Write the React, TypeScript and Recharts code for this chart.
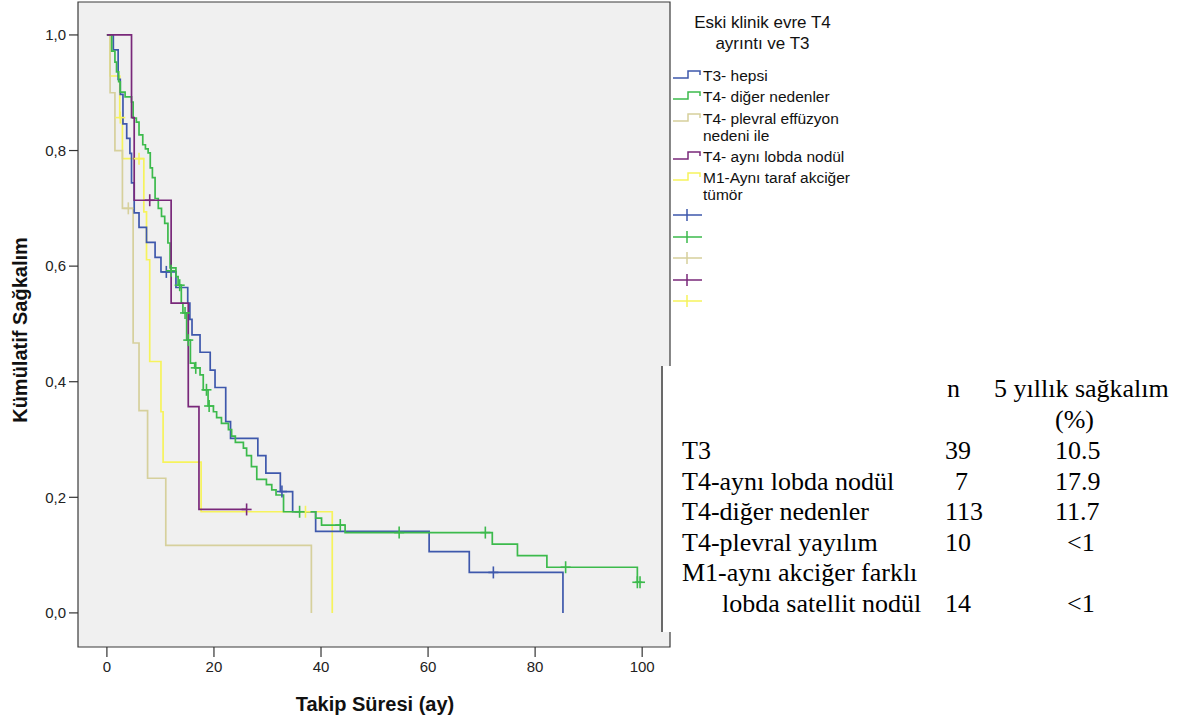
import React from 'react';
import { ComposedChart, Line, Scatter, XAxis, YAxis, ReferenceArea } from 'recharts';

// ---------- data ----------
const xTicks = [0, 20, 40, 60, 80, 100];
const yTicks = [0, 0.2, 0.4, 0.6, 0.8, 1.0];

// step points: [time (months), survival after that time]
const t3Steps: [number, number][] = [
  [0, 1], [1.2, 0.974], [2.1, 0.923], [2.5, 0.897], [3.0, 0.846], [3.7, 0.821], [4.3, 0.795],
  [4.6, 0.744], [5.1, 0.692], [6.0, 0.667], [7.4, 0.641], [9.0, 0.615], [10.1, 0.59],
  [12.9, 0.563], [15.1, 0.536], [15.5, 0.508], [15.9, 0.481], [17.4, 0.451], [19.3, 0.42],
  [20.2, 0.39], [22.2, 0.331], [23.1, 0.302], [28.2, 0.272], [29.7, 0.242], [32.4, 0.21],
  [34.7, 0.175], [39.0, 0.141], [60.2, 0.106], [67.7, 0.07], [85.2, 0],
];
const t3Censor: [number, number][] = [[11.1, 0.59], [32.7, 0.21], [72.2, 0.07]];

const t4OtherSteps: [number, number][] = [
  [0, 1], [0.9, 0.972], [1.5, 0.953], [1.8, 0.936], [2.2, 0.919], [2.5, 0.901], [3.4, 0.893],
  [4.6, 0.884], [4.9, 0.856], [5.5, 0.849], [6.0, 0.827], [6.7, 0.81], [7.2, 0.803], [7.7, 0.796],
  [8.1, 0.77], [8.5, 0.753], [9.0, 0.717], [9.6, 0.7], [10.2, 0.686], [10.8, 0.674], [11.4, 0.64],
  [11.8, 0.597], [12.9, 0.582], [13.3, 0.567], [13.9, 0.536], [14.2, 0.519], [14.9, 0.472],
  [15.6, 0.432], [16.4, 0.424], [17.4, 0.412], [18.0, 0.386], [18.9, 0.358], [19.9, 0.348],
  [20.5, 0.338], [21.4, 0.328], [22.7, 0.317], [23.3, 0.306], [24.0, 0.295], [25.5, 0.285],
  [26.1, 0.272], [27.0, 0.253], [28.0, 0.231], [29.8, 0.222], [30.8, 0.213], [31.6, 0.204],
  [33.0, 0.175], [39.0, 0.164], [40.1, 0.152], [44.5, 0.139], [72.0, 0.119], [76.7, 0.099],
  [82.2, 0.079], [99.1, 0.053], [99.6, 0.053],
];
const t4OtherCensor: [number, number][] = [
  [12.0, 0.592], [13.6, 0.567], [14.6, 0.519], [15.2, 0.472], [16.6, 0.424], [18.6, 0.386],
  [19.1, 0.358], [36.0, 0.175], [43.6, 0.152], [54.6, 0.139], [70.7, 0.139], [85.7, 0.079],
  [99.1, 0.053], [99.6, 0.053],
];

const t4PleuralSteps: [number, number][] = [
  [0, 1], [0.6, 0.9], [1.5, 0.8], [2.9, 0.7], [4.9, 0.467], [6.0, 0.35], [7.6, 0.233],
  [11.0, 0.117], [38.2, 0],
];
const t4PleuralCensor: [number, number][] = [[4.0, 0.7]];

const t4SameLobeSteps: [number, number][] = [
  [0, 1], [4.6, 0.857], [5.1, 0.714], [12.0, 0.536], [15.2, 0.357], [17.2, 0.179], [26.1, 0.179],
];
const t4SameLobeCensor: [number, number][] = [[8.0, 0.714], [26.1, 0.179]];

const m1Steps: [number, number][] = [
  [0, 1], [0.6, 0.929], [2.4, 0.857], [2.9, 0.786], [6.9, 0.694], [7.4, 0.611], [8.0, 0.435],
  [10.1, 0.348], [10.5, 0.261], [17.6, 0.175], [42.1, 0],
];
const m1Censor: [number, number][] = [[2.5, 0.857], [6.0, 0.786], [37.1, 0.175]];

const legendTitle = ['Eski klinik evre T4', 'ayrıntı ve T3'];
const legendLabels = [
  ['T3- hepsi'],
  ['T4- diğer nedenler'],
  ['T4- plevral effüzyon', 'nedeni ile'],
  ['T4- aynı lobda nodül'],
  ['M1-Aynı taraf akciğer', 'tümör'],
];

const tableHeaderN = 'n';
const tableHeaderSurv = ['5 yıllık sağkalım', '(%)'];
const tableGroups = [
  ['T3'],
  ['T4-aynı lobda nodül'],
  ['T4-diğer nedenler'],
  ['T4-plevral yayılım'],
  ['M1-aynı akciğer farklı', 'lobda satellit nodül'],
];
const tableN = ['39', '7', '113', '10', '14'];
const tableSurv = ['10.5', '17.9', '11.7', '<1', '<1'];

// ---------- styles ----------
const BLUE = '#3e58ac';
const GREEN = '#3cba4c';
const BEIGE = '#d6d09c';
const PURPLE = '#79287a';
const YELLOW = '#f6f35c';
const COLORS = [BLUE, GREEN, BEIGE, PURPLE, YELLOW];

const SANS = '"Liberation Sans", Arial, sans-serif';
const SERIF = '"Liberation Serif", "Times New Roman", serif';

const toPts = (a: [number, number][]) => a.map(([t, s]) => ({ t, s }));

const X_DOMAIN: [number, number] = [-5.4, 105.2];
const Y_DOMAIN: [number, number] = [-0.059, 1.057];

const makeCensor = (color: string) => (props: any) => {
  const { cx, cy } = props;
  if (cx == null || cy == null) return <g />;
  return (
    <g>
      <line x1={cx} y1={cy - 6} x2={cx} y2={cy + 6} stroke={color} strokeWidth={1.6} />
      <line x1={cx - 5} y1={cy} x2={cx + 5} y2={cy} stroke={color} strokeWidth={1.6} />
    </g>
  );
};

const fmt = (v: number) => v.toFixed(1).replace('.', ',');

const StepIcon = ({ color }: { color: string }) => (
  <svg width={30} height={14} style={{ display: 'block' }}>
    <path d="M0,9 L15,9 L15,2 L27,2 L27,6" fill="none" stroke={color} strokeWidth={1.5} />
  </svg>
);
const CensorIcon = ({ color }: { color: string }) => (
  <svg width={30} height={14} style={{ display: 'block' }}>
    <path d="M0,7 L29,7 M14,1 L14,13" fill="none" stroke={color} strokeWidth={1.5} />
  </svg>
);

export default function App() {
  const series = [
    { steps: m1Steps, censor: m1Censor, color: YELLOW, key: 'm1' },
    { steps: t4PleuralSteps, censor: t4PleuralCensor, color: BEIGE, key: 'pl' },
    { steps: t3Steps, censor: t3Censor, color: BLUE, key: 't3' },
    { steps: t4OtherSteps, censor: t4OtherCensor, color: GREEN, key: 'ot' },
    { steps: t4SameLobeSteps, censor: t4SameLobeCensor, color: PURPLE, key: 'sl' },
  ];
  const itemTops = [77, 98, 120, 158, 179];
  const censorTops = [215, 236.5, 258, 280, 300.5];
  const rowCenters = [451, 481.5, 512, 542.5, 573];

  return (
    <div style={{ position: 'absolute', left: 0, top: 0, width: 1193, height: 723, background: '#fff', overflow: 'hidden' }}>
      <ComposedChart
        width={1193}
        height={723}
        margin={{ top: 2, right: 523, bottom: 46, left: 18 }}
      >
        <ReferenceArea
          x1={X_DOMAIN[0]}
          x2={X_DOMAIN[1]}
          y1={Y_DOMAIN[0]}
          y2={Y_DOMAIN[1]}
          fill="#f0f0f0"
          fillOpacity={1}
          stroke="#3a3a3a"
          strokeWidth={1.2}
          ifOverflow="visible"
        />
        <XAxis
          type="number"
          dataKey="t"
          domain={X_DOMAIN}
          ticks={xTicks}
          allowDataOverflow
          height={30}
          axisLine={false}
          tickLine={{ stroke: '#333', strokeWidth: 1.2 }}
          tickSize={10}
          tickMargin={4}
          tick={{ fontSize: 15, fill: '#222', fontFamily: SANS }}
        />
        <YAxis
          type="number"
          dataKey="s"
          domain={Y_DOMAIN}
          ticks={yTicks}
          allowDataOverflow
          width={60}
          axisLine={false}
          tickLine={{ stroke: '#333', strokeWidth: 1.2 }}
          tickSize={9}
          tickMargin={3}
          tickFormatter={fmt}
          tick={{ fontSize: 15, fill: '#222', fontFamily: SANS }}
        />
        {series.map((s) => (
          <Line
            key={s.key + 'l'}
            data={toPts(s.steps)}
            dataKey="s"
            type="stepAfter"
            stroke={s.color}
            strokeWidth={1.7}
            dot={false}
            activeDot={false}
            isAnimationActive={false}
          />
        ))}
        {series.map((s) => (
          <Scatter
            key={s.key + 'c'}
            data={toPts(s.censor)}
            dataKey="s"
            shape={makeCensor(s.color)}
            isAnimationActive={false}
          />
        ))}
      </ComposedChart>

      {/* axis titles */}
      <div style={{ position: 'absolute', left: 275, top: 692, width: 200, textAlign: 'center', fontFamily: SANS, fontWeight: 'bold', fontSize: 20, color: '#111', lineHeight: '24px' }}>
        Takip Süresi (ay)
      </div>
      <div style={{ position: 'absolute', left: 20, top: 330, width: 0, height: 0 }}>
        <div style={{ position: 'absolute', left: -120, top: -12, width: 240, textAlign: 'center', fontFamily: SANS, fontWeight: 'bold', fontSize: 20, color: '#111', lineHeight: '24px', transform: 'rotate(-90deg)', whiteSpace: 'nowrap' }}>
          Kümülatif Sağkalım
        </div>
      </div>

      {/* legend */}
      <div style={{ position: 'absolute', left: 680, top: 12, width: 165, textAlign: 'center', fontFamily: SANS, fontSize: 17, color: '#111', lineHeight: '21px' }}>
        {legendTitle.map((l) => <div key={l}>{l}</div>)}
      </div>
      {legendLabels.map((lines, i) => (
        <div key={i} style={{ position: 'absolute', left: 673, top: itemTops[i] - 8 }}>
          <div style={{ position: 'absolute', left: 0, top: 0 }}><StepIcon color={COLORS[i]} /></div>
          <div style={{ position: 'absolute', left: 30, top: -1, fontFamily: SANS, fontSize: 15.5, lineHeight: '16.5px', color: '#111', whiteSpace: 'nowrap' }}>
            {lines.map((l) => <div key={l}>{l}</div>)}
          </div>
        </div>
      ))}
      {COLORS.map((c, i) => (
        <div key={'c' + i} style={{ position: 'absolute', left: 673, top: censorTops[i] - 7 }}>
          <CensorIcon color={c} />
        </div>
      ))}

      {/* table */}
      <div style={{ position: 'absolute', left: 661, top: 366, width: 532, height: 266, background: '#fff', borderLeft: '2px solid #6a6a6a' }} />
      <div style={{ position: 'absolute', left: 947, top: 374, fontFamily: SERIF, fontSize: 26, lineHeight: '30px', color: '#000' }}>{tableHeaderN}</div>
      <div style={{ position: 'absolute', left: 994, top: 374, fontFamily: SERIF, fontSize: 26, lineHeight: '30px', color: '#000', whiteSpace: 'nowrap' }}>{tableHeaderSurv[0]}</div>
      <div style={{ position: 'absolute', left: 1055, top: 404.5, fontFamily: SERIF, fontSize: 26, lineHeight: '30px', color: '#000' }}>{tableHeaderSurv[1]}</div>
      {tableGroups.map((g, i) => (
        <React.Fragment key={'r' + i}>
          {g.map((line, j) => (
            <div key={line} style={{ position: 'absolute', left: j === 0 ? 682 : 722, top: rowCenters[i] - 15 + j * 31, fontFamily: SERIF, fontSize: 26, lineHeight: '30px', color: '#000', whiteSpace: 'nowrap' }}>{line}</div>
          ))}
          <div style={{ position: 'absolute', left: tableN[i].length === 1 ? 955 : 945, top: rowCenters[i] - 15 + (g.length - 1) * 31, fontFamily: SERIF, fontSize: 26, lineHeight: '30px', color: '#000' }}>{tableN[i]}</div>
          <div style={{ position: 'absolute', left: tableSurv[i] === '<1' ? 1067 : 1055, top: rowCenters[i] - 15 + (g.length - 1) * 31, fontFamily: SERIF, fontSize: 26, lineHeight: '30px', color: '#000' }}>{tableSurv[i]}</div>
        </React.Fragment>
      ))}
    </div>
  );
}
